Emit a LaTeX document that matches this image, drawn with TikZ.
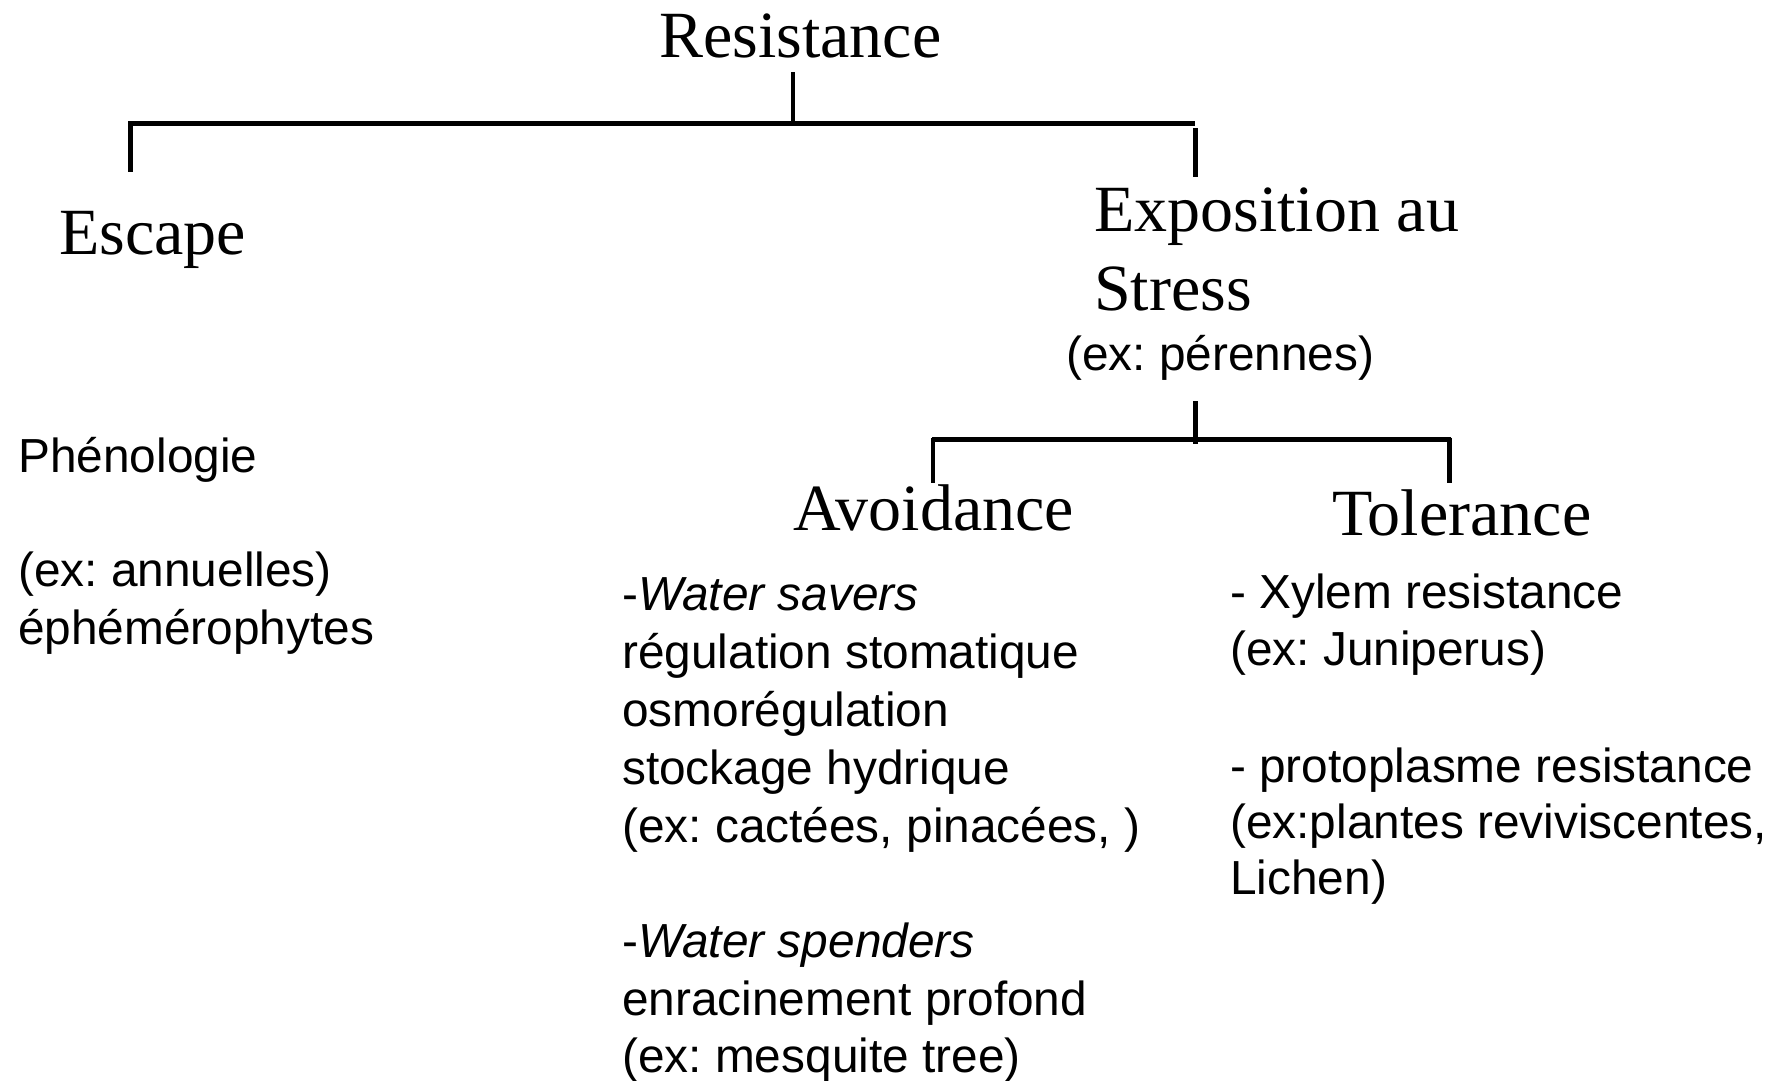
\documentclass[tikz,border=0pt]{standalone}
\usepackage{fontspec}
\setmainfont{Liberation Serif}
\setsansfont{Liberation Sans}
\frenchspacing
\begin{document}
\begin{tikzpicture}[x=1pt,y=-1pt,
  big/.style={font=\fontsize{66}{70}\selectfont\rmfamily, inner sep=0pt, anchor=base west},
  small/.style={font=\fontsize{47.8}{57}\selectfont\sffamily\frenchspacing, inner sep=0pt, anchor=base west},
  link/.style={line width=4.5pt, line cap=butt}]
\useasboundingbox (0,0) rectangle (1782,1080);
% titles
\node[big] (res) at (659,57) {Resistance};
\node[big] (esc) at (59,254) {Escape};
\node[big] (expo1) at (1094,231) {Exposition au};
\node[big] (expo2) at (1094,310) {Stress};
\node[small] (expo3) at (1066,370) {(ex: pérennes)};
\node[big] (avo) at (793,530) {Avoidance};
\node[big] (tol) at (1332,535) {Tolerance};
% escape column
\node[small] (phe) at (18,472) {Phénologie};
\node[small] (ann) at (18,586) {(ex: annuelles)};
\node[small] (eph) at (18,644) {éphémérophytes};
% avoidance column
\node[small] (a1) at (622,610) {-\textit{Water savers}};
\node[small] (a2) at (622,668) {régulation stomatique};
\node[small] (a3) at (622,726) {osmorégulation};
\node[small] (a4) at (622,784) {stockage hydrique};
\node[small] (a5) at (622,842) {(ex: cactées, pinacées, )};
\node[small] (a6) at (622,957) {-\textit{Water spenders}};
\node[small] (a7) at (622,1015) {enracinement profond};
\node[small] (a8) at (622,1072) {(ex: mesquite tree)};
% tolerance column
\node[small] (t1) at (1230,608) {- Xylem resistance};
\node[small] (t2) at (1230,665) {(ex: Juniperus)};
\node[small] (t3) at (1230,782) {- protoplasme resistance};
\node[small] (t4) at (1230,838) {(ex:plantes reviviscentes,};
\node[small] (t5) at (1230,894) {Lichen)};
% bracket 1
\coordinate (r0) at (793,72);
\coordinate (r1) at (793,121);
\coordinate (b1l) at (128,123.5);
\coordinate (b1r) at (1195,123.5);
\coordinate (d1a) at (130.5,121);
\coordinate (d1b) at (130.5,172);
\coordinate (d2a) at (1195.5,128);
\coordinate (d2b) at (1195.5,177);
\draw[link] (r0) -- (r1);
\draw[link] (b1l) -- (b1r);
\draw[link] (d1a) -- (d1b);
\draw[link] (d2a) -- (d2b);
% bracket 2
\coordinate (s0) at (1195.5,401);
\coordinate (s1) at (1195.5,444);
\coordinate (b2l) at (932,439.5);
\coordinate (b2r) at (1451,439.5);
\coordinate (e1a) at (933,437.5);
\coordinate (e1b) at (933,483);
\coordinate (e2a) at (1449.5,437.5);
\coordinate (e2b) at (1449.5,483);
\draw[link] (s0) -- (s1);
\draw[link] (b2l) -- (b2r);
\draw[link] (e1a) -- (e1b);
\draw[link] (e2a) -- (e2b);
\end{tikzpicture}
\end{document}
